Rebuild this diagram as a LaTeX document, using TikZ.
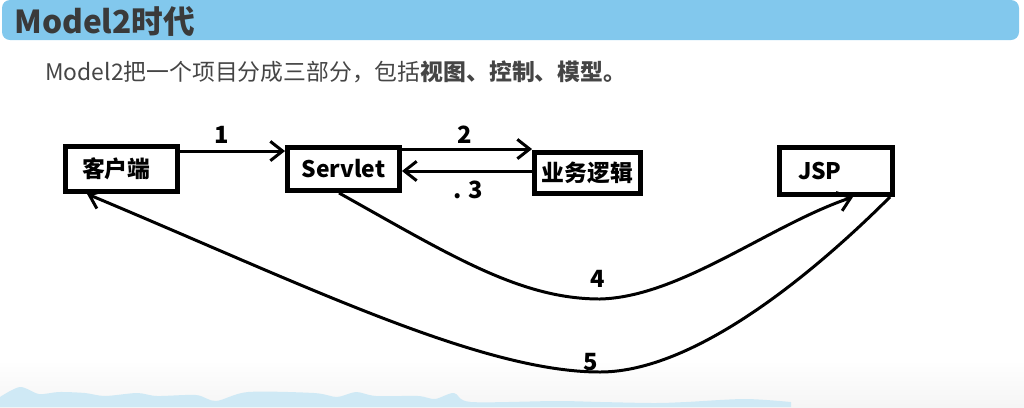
\documentclass[tikz,border=0pt]{standalone}
\usepackage{fontspec}
\setmainfont{Noto Sans CJK SC}
\usetikzlibrary{arrows.meta}
\definecolor{barblue}{HTML}{82C8ED}
\definecolor{wave}{HTML}{CFE9F5}
\definecolor{titlegray}{HTML}{3A3A3A}
\definecolor{textgray}{HTML}{454545}
\tikzset{box/.style 2 args={draw, line width=2.8pt, inner sep=0pt,
      minimum width=#1*0.02cm, minimum height=#2*0.02cm,
      font=\bfseries\fontsize{13}{15}\selectfont}}
\tikzset{leftbox/.style 2 args={inner xsep=#1*0.02cm, text width=#2*0.02cm, align=left}}
\tikzset{num/.style={inner sep=0pt, font=\bfseries\fontsize{13.5}{15}\selectfont}}
\tikzset{arr/.style={line width=1.7pt, ->}}

\begin{document}
\begin{tikzpicture}[x=0.02cm,y=-0.02cm,>={Straight Barb[length=7pt,width=11pt]}]
		\useasboundingbox (0,0) rectangle (1024,407);
		\shade[top color=white, bottom color=black!4] (0,360) rectangle (1024,407);
		\fill[wave] plot[smooth] coordinates {(0,397) (20,387) (39,394) (59,392) (85,393) (105,396) (137,393) (157,396) (196,395) (216,401) (248,392) (314,393) (337,397) (356,392) (376,396) (418,396) (435,399) (454,393) (471,402) (556,401) (601,402) (654,403) (686,402) (745,399) (791,402)} -- (791,407) -- (0,407) -- cycle;
		% header
		\fill[barblue, rounded corners=0.16cm] (2,0) rectangle (1019,40);
		\node[anchor=west, inner sep=0pt, text=titlegray, font=\bfseries\fontsize{18}{22}\selectfont] (title) at (14,21) {Model2时代};
		\node[anchor=west, inner sep=0pt, text=textgray, font=\fontsize{13}{16}\selectfont] (intro) at (45,72) {Model2把一个项目分成三部分，包括\textbf{视图、控制、模型。}};
		% boxes
		\node[box={112}{45}, leftbox={16.5}{79}] (client) at (121.5,169) {客户端};
		\node[box={112}{43}] (servlet) at (343.5,169) {Servlet};
		\node[box={106}{41}] (logic) at (587.5,173) {业务逻辑};
		\node[box={113}{47}, leftbox={18.5}{76}] (jsp) at (836,171) {JSP};
		% arrows
		\draw[arr] ([yshift=-0.14cm]client.north east) coordinate (c1) -- (c1 -| servlet.west);
		\draw[arr] ([yshift=-0.08cm]servlet.north east) coordinate (c2) -- (c2 -| logic.west);
		\draw[arr] ([yshift=0.04cm]logic.west) coordinate (c3) -- (c3 -| servlet.east);
		\draw[arr] ([xshift=-0.09cm]servlet.south) .. controls (450,255) and (520,299) .. (600,299) .. controls (680,297) and (770,225) .. ([xshift=0.34cm]jsp.south);
		\draw[arr] ([xshift=-0.1cm]jsp.south east) .. controls (825,262) and (700,372) .. (600,372) .. controls (480,372) and (300,283) .. ([xshift=0.48cm]client.south west);
		% labels
		\node[num] (n1) at (222,135) {1};
		\node[num] (n2) at (465,135) {2};
		\node[num] (n3) at (468,190) {. 3};
		\node[num] (n4) at (598,279) {4};
		\node[num] (n5) at (591,362) {5};
\end{tikzpicture}
\end{document}
